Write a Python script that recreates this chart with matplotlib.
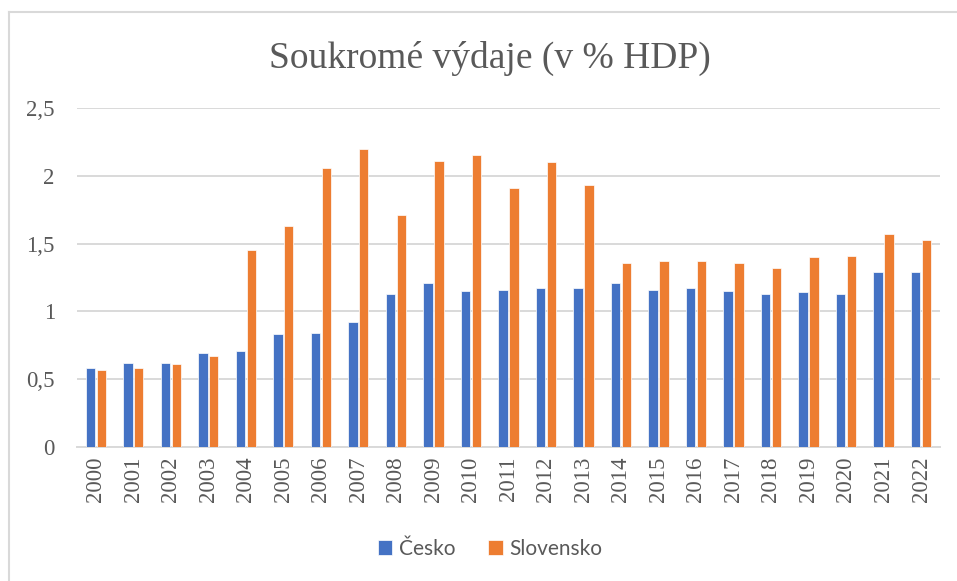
import matplotlib.pyplot as plt
import numpy as np

roky = [str(r) for r in range(2000, 2023)]
cesko = [0.58, 0.62, 0.62, 0.69, 0.71, 0.83, 0.84, 0.92, 1.13, 1.21, 1.15, 1.16,
         1.17, 1.17, 1.21, 1.16, 1.17, 1.15, 1.13, 1.14, 1.13, 1.29, 1.29]
slovensko = [0.57, 0.58, 0.61, 0.67, 1.45, 1.63, 2.06, 2.20, 1.71, 2.11, 2.15, 1.91,
             2.10, 1.93, 1.36, 1.37, 1.37, 1.36, 1.32, 1.40, 1.41, 1.57, 1.53]
yticks = [0, 0.5, 1, 1.5, 2, 2.5]
ylabels = ["0", "0,5", "1", "1,5", "2", "2,5"]

seda = '#595959'
fig = plt.figure(figsize=(9.57, 5.81), dpi=100)
ax = fig.add_axes([0.0805, 0.2306, 0.9015, 0.5835])

x = np.arange(len(roky))
w = 0.25
ax.bar(x - 0.145, cesko, w, color='#4472C4', edgecolor='white', linewidth=0.5, label='Česko', zorder=3)
ax.bar(x + 0.145, slovensko, w, color='#ED7D31', edgecolor='white', linewidth=0.5, label='Slovensko', zorder=3)

ax.set_xlim(-0.5, len(roky) - 0.5)
ax.set_ylim(0, 2.5)
ax.set_yticks(yticks)
ax.set_yticklabels(ylabels, family='Liberation Serif', fontsize=16.5, color=seda)
ax.set_xticks(x)
ax.set_xticklabels(roky, rotation=90, family='Liberation Serif', fontsize=16.5, color=seda)
ax.tick_params(axis='both', length=0)
ax.tick_params(axis='y', pad=16)
ax.tick_params(axis='x', pad=7)
ax.yaxis.grid(True, color='#D9D9D9', linewidth=1.4, zorder=0)
ax.set_axisbelow(True)
for s in ['top', 'right', 'left']:
    ax.spines[s].set_visible(False)
ax.spines['bottom'].set_color('#D9D9D9')
ax.spines['bottom'].set_linewidth(1.4)

fig.text(0.512, 0.900, 'Soukromé výdaje (v % HDP)', ha='center', va='center',
         family='Liberation Serif', fontsize=27, color=seda)

leg = fig.legend(loc='center', bbox_to_anchor=(0.512, 0.055), ncol=2, frameon=False,
                 prop={'family': 'Lato', 'size': 15}, handlelength=0.7, handleheight=0.7,
                 handletextpad=0.3, columnspacing=1.6)
for t in leg.get_texts():
    t.set_color(seda)

# ramecek grafu
fig.add_artist(plt.Line2D([0.009, 0.009], [0.0, 0.979], color='#D9D9D9', linewidth=1.5))
fig.add_artist(plt.Line2D([0.009, 1.0], [0.979, 0.979], color='#D9D9D9', linewidth=1.5))

plt.savefig('out.png', dpi=100)
plt.close()
